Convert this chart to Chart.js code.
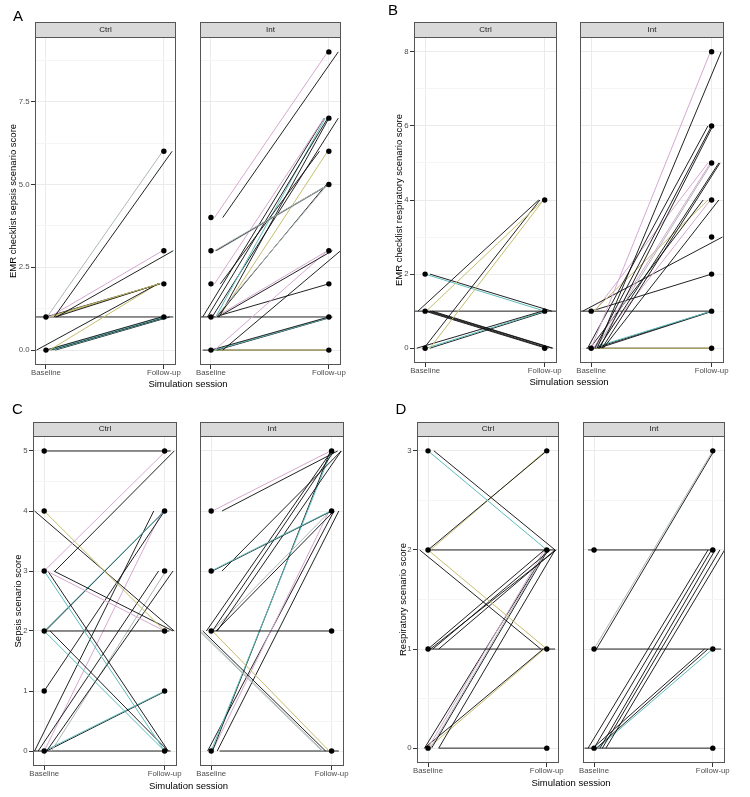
<!DOCTYPE html>
<html><head><meta charset="utf-8">
<script src="https://cdn.jsdelivr.net/npm/chart.js@4.4.1/dist/chart.umd.min.js"></script>
<style>
html,body{margin:0;padding:0;background:#fff;}
#page{position:relative;width:750px;height:797px;overflow:hidden;background:#fff;font-family:"Liberation Sans",Arial,sans-serif;}
canvas{position:absolute;}
.lbl{position:absolute;white-space:nowrap;color:#000;}
</style></head><body><div id="page"></div>
<script>
// ---------------- DATA ----------------
const sessions = ['Baseline', 'Follow-up'];
const groups = ['Ctrl', 'Int'];
const xTitle = 'Simulation session';

// Panel A: EMR checklist sepsis scenario score
const A_yTitle = 'EMR checklist sepsis scenario score';
const A_yTicks = [0, 2.5, 5, 7.5];
const A_yLabels = ['0.0', '2.5', '5.0', '7.5'];
const A_yRange = [-0.45, 9.45];
const A_ctrl_base   = [1,1,1,1,1,1,1,1,0,0,0,0,0,0,0,1];
const A_ctrl_follow = [6,6,3,3,2,2,2,2,2,2,1,1,1,1,1,1];
const A_ctrl_jitB   = [0.01,0.07,0.03,0.09,0.02,0.08,0.00,0.05,-0.08,0.03,0.00,0.02,0.04,0.06,0.08,-0.09];
const A_ctrl_jitF   = [-0.01,0.07,-0.01,0.08,-0.04,-0.04,-0.03,-0.04,-0.05,-0.05,-0.02,0.00,0.02,0.03,0.05,0.08];
const A_ctrl_grp    = ['g','k','p','k','o','k','k','o','k','o','k','t','k','t','k','k'];
const A_int_base    = [4,4,3,3,3,1,1,2,2,1,1,1,1,1,1,1,1,0,0,1,0,0,0,0,0,1];
const A_int_follow  = [9,9,5,5,5,5,5,6,7,7,7,7,7,7,6,3,3,3,3,2,1,1,1,0,0,1];
const A_int_jitB    = [0.03,0.10,0.03,0.04,0.05,0.04,0.05,0.08,0.03,-0.07,-0.03,0.04,0.07,0.01,0.07,0.04,0.06,0.10,0.03,0.03,0.00,0.03,0.05,0.02,-0.07,-0.09];
const A_int_jitF    = [-0.01,0.08,0.00,0.00,0.01,-0.01,-0.02,-0.08,-0.04,-0.04,-0.01,-0.03,0.00,0.08,-0.01,-0.01,0.03,0.10,-0.01,0.00,0.00,0.02,0.03,0.01,0.00,0.00];
const A_int_grp     = ['p','k','g','k','g','g','k','k','p','k','k','t','k','k','o','p','k','k','p','k','k','t','k','o','k','k'];

// Panel B: EMR checklist respiratory scenario score
const B_yTitle = 'EMR checklist respiratory scenario score';
const B_yTicks = [0, 2, 4, 6, 8];
const B_yLabels = ['0', '2', '4', '6', '8'];
const B_yRange = [-0.4, 8.4];
const B_ctrl_base   = [1,1,0,0,2,2,1,1,1,1,0,0,0,1];
const B_ctrl_follow = [4,4,4,4,1,1,0,0,0,0,1,1,1,1];
const B_ctrl_jitB   = [-0.06,0.01,-0.01,0.04,0.00,0.04,0.00,0.02,0.04,0.06,-0.07,0.01,0.04,-0.10];
const B_ctrl_jitF   = [-0.05,-0.01,-0.04,-0.01,0.00,0.06,0.01,0.03,0.06,0.07,-0.02,0.00,0.02,0.10];
const B_ctrl_grp    = ['k','o','k','o','t','k','k','k','k','k','k','t','k','k'];
const B_int_base    = [0,0,0,0,0,0,0,0,0,0,0,0,1,1,1,1,0,0,0,0,0,1];
const B_int_follow  = [8,8,6,6,6,5,5,5,5,4,4,4,4,3,5,2,1,1,1,0,0,1];
const B_int_jitB    = [0.00,0.05,-0.03,0.03,0.07,0.02,0.04,0.06,0.09,-0.01,0.03,0.10,0.02,-0.07,0.03,0.00,0.00,0.03,0.06,0.00,-0.04,-0.10];
const B_int_jitF    = [-0.01,0.08,-0.03,0.00,0.01,-0.01,0.00,0.06,0.07,-0.07,-0.01,0.06,-0.03,0.09,-0.03,0.00,0.00,0.00,0.01,0.00,0.00,0.00];
const B_int_grp     = ['p','k','k','k','k','p','g','k','k','k','p','k','o','k','p','k','t','k','k','o','k','k'];

// Panel C: Sepsis scenario score
const C_yTitle = 'Sepsis scenario score';
const C_yTicks = [0, 1, 2, 3, 4, 5];
const C_yLabels = ['0', '1', '2', '3', '4', '5'];
const C_yRange = [-0.25, 5.25];
const C_ctrl_base   = [5,3,3,4,4,3,3,3,3,2,2,2,2,2,1,0,0,0,0,0,0,0,0];
const C_ctrl_follow = [5,5,5,2,2,2,2,0,0,4,4,0,0,2,4,4,3,3,3,4,1,1,0];
const C_ctrl_jitB   = [0.02,0.00,0.09,0.00,-0.08,0.02,0.08,0.00,0.03,0.00,0.01,0.00,0.05,0.00,0.00,-0.08,-0.05,0.02,0.06,0.00,0.00,0.02,-0.09];
const C_ctrl_jitF   = [0.05,0.01,0.08,0.00,0.08,0.00,0.07,0.00,0.03,0.00,0.00,0.00,0.03,0.04,0.00,-0.09,-0.05,0.07,0.01,-0.02,0.00,0.01,0.05];
const C_ctrl_grp    = ['k','p','k','o','k','p','k','t','k','t','k','t','k','k','k','k','k','k','g','p','t','k','k'];
const C_int_base    = [4,4,3,3,3,2,2,2,2,2,2,2,2,2,2,0,0,0,0,0,0];
const C_int_follow  = [5,5,4,4,5,5,5,5,4,4,2,0,0,0,0,5,5,4,4,4,0];
const C_int_jitB    = [0.01,0.09,0.00,0.01,0.09,0.01,0.05,-0.04,0.01,0.04,0.00,-0.10,-0.09,-0.07,0.01,0.00,0.01,0.01,0.05,-0.03,0.07];
const C_int_jitF    = [-0.01,0.05,-0.01,0.00,0.08,0.02,0.08,0.00,-0.01,0.02,-0.01,-0.08,-0.07,-0.05,-0.02,0.00,-0.01,-0.02,0.06,0.02,0.06];
const C_int_grp     = ['p','k','t','k','k','k','k','k','g','k','k','g','g','k','o','t','k','p','k','k','k'];

// Panel D: Respiratory scenario score
const D_yTitle = 'Respiratory scenario score';
const D_yTicks = [0, 1, 2, 3];
const D_yLabels = ['0', '1', '2', '3'];
const D_yRange = [-0.15, 3.15];
const D_ctrl_base   = [3,3,2,2,2,2,2,1,1,1,1,1,0,0,0,0,0,0,0,0];
const D_ctrl_follow = [2,2,3,3,2,1,1,2,2,2,2,1,2,2,2,2,2,1,1,0];
const D_ctrl_jitB   = [0.00,0.05,0.00,0.02,0.00,0.00,-0.07,0.00,0.04,0.09,0.02,0.00,0.00,0.02,-0.03,0.09,0.03,-0.03,0.00,0.09];
const D_ctrl_jitF   = [0.00,0.07,0.00,-0.01,0.07,0.00,-0.05,-0.02,0.03,0.07,0.08,0.07,-0.02,0.00,0.00,0.07,0.01,-0.03,-0.02,0.00];
const D_ctrl_grp    = ['t','k','k','o','k','o','k','k','k','k','k','k','p','g','k','k','k','k','o','k'];
const D_int_base    = [2,1,1,1,0,0,0,0,0,0,0,0,0];
const D_int_follow  = [2,3,3,1,2,2,2,2,2,1,1,1,0];
const D_int_jitB    = [-0.05,0.00,0.02,0.00,-0.05,0.00,0.05,0.07,0.10,-0.01,0.02,0.03,-0.08];
const D_int_jitF    = [0.00,0.00,0.01,0.07,-0.04,-0.01,0.02,0.06,0.10,-0.07,-0.04,0.00,0.00];
const D_int_grp     = ['k','g','k','k','k','k','k','k','k','k','k','t','k'];

// ---------------- STYLE / LAYOUT ----------------
const FAMILY = '"Liberation Sans", Arial, sans-serif';
const PALETTE = { k: 'rgba(15,15,15,0.92)', p: '#d6a8cf', t: '#5cbcbd', o: '#c6bd6c', g: '#adb7b7' };
const X_RANGE = [0.907, 2.103];

const PANELS = [
  { letter: 'A', yTitle: A_yTitle, ticks: A_yTicks, labels: A_yLabels, range: A_yRange,
    lay: { x0: 0, stripTop: 22, plotTop: 37, plotBottom: 365, facets: [[35,176],[200,341]], yTitleX: 13.3, xTitleY: 384, letterPos: [13, 7.5] },
    data: [ {base: A_ctrl_base, follow: A_ctrl_follow, jb: A_ctrl_jitB, jf: A_ctrl_jitF, grp: A_ctrl_grp},
            {base: A_int_base,  follow: A_int_follow,  jb: A_int_jitB,  jf: A_int_jitF,  grp: A_int_grp} ] },
  { letter: 'B', yTitle: B_yTitle, ticks: B_yTicks, labels: B_yLabels, range: B_yRange,
    lay: { x0: 375, stripTop: 22, plotTop: 37, plotBottom: 363, facets: [[414,557],[580,724]], yTitleX: 399, xTitleY: 381.3, letterPos: [388, 2.3] },
    data: [ {base: B_ctrl_base, follow: B_ctrl_follow, jb: B_ctrl_jitB, jf: B_ctrl_jitF, grp: B_ctrl_grp},
            {base: B_int_base,  follow: B_int_follow,  jb: B_int_jitB,  jf: B_int_jitF,  grp: B_int_grp} ] },
  { letter: 'C', yTitle: C_yTitle, ticks: C_yTicks, labels: C_yLabels, range: C_yRange,
    lay: { x0: 0, stripTop: 422, plotTop: 436, plotBottom: 766, facets: [[33,177],[200,344]], yTitleX: 18, xTitleY: 785.8, letterPos: [12, 400.6] },
    data: [ {base: C_ctrl_base, follow: C_ctrl_follow, jb: C_ctrl_jitB, jf: C_ctrl_jitF, grp: C_ctrl_grp},
            {base: C_int_base,  follow: C_int_follow,  jb: C_int_jitB,  jf: C_int_jitF,  grp: C_int_grp} ] },
  { letter: 'D', yTitle: D_yTitle, ticks: D_yTicks, labels: D_yLabels, range: D_yRange,
    lay: { x0: 375, stripTop: 422, plotTop: 436, plotBottom: 763, facets: [[417,559],[583,725]], yTitleX: 403, xTitleY: 782.5, letterPos: [395.5, 400.6] },
    data: [ {base: D_ctrl_base, follow: D_ctrl_follow, jb: D_ctrl_jitB, jf: D_ctrl_jitF, grp: D_ctrl_grp},
            {base: D_int_base,  follow: D_int_follow,  jb: D_int_jitB,  jf: D_int_jitF,  grp: D_int_grp} ] }
];

const page = document.getElementById('page');

const facetDeco = {
  id: 'facetDeco',
  beforeDraw(chart, args, opts) {
    const {ctx, chartArea: a} = chart;
    ctx.save();
    ctx.fillStyle = '#d9d9d9';
    ctx.fillRect(a.left, a.top - opts.stripH, a.right - a.left, opts.stripH);
    ctx.restore();
  },
  afterDraw(chart, args, opts) {
    const {ctx, chartArea: a} = chart;
    ctx.save();
    ctx.strokeStyle = '#555555';
    ctx.lineWidth = 1;
    ctx.strokeRect(a.left + 0.5, a.top + 0.5, a.right - a.left - 1, a.bottom - a.top - 1);
    ctx.strokeRect(a.left + 0.5, a.top - opts.stripH + 0.5, a.right - a.left - 1, opts.stripH);
    ctx.restore();
  }
};

function minorTicks(majors, range) {
  const out = [];
  const step = majors[1] - majors[0];
  for (let v = majors[0] - step / 2; v <= range[1]; v += step) {
    if (v >= range[0] && v <= range[1]) out.push(v);
  }
  return out;
}

function makeFacet(P, fi) {
  const L = P.lay;
  const d = P.data[fi];
  const [pl, pr] = L.facets[fi];
  const isLeft = fi === 0;
  const x0 = isLeft ? L.x0 : pl - 10;
  const yW = pl - x0;
  const rPad = 14, xH = 18;
  const stripH = L.plotTop - L.stripTop;
  const W = pr - x0 + rPad;
  const H = L.plotBottom - L.stripTop + xH;
  const cv = document.createElement('canvas');
  cv.width = W; cv.height = H;
  cv.style.left = x0 + 'px'; cv.style.top = L.stripTop + 'px';
  cv.style.width = W + 'px'; cv.style.height = H + 'px';
  page.appendChild(cv);

  const minors = minorTicks(P.ticks, P.range);
  const allTicks = P.ticks.concat(minors).sort((a, b) => a - b);
  const majorIdx = v => P.ticks.findIndex(m => Math.abs(m - v) < 1e-9);

  const lineSets = d.base.map((b, i) => ({
    type: 'scatter', showLine: true,
    data: [{x: 1 + d.jb[i], y: b}, {x: 2 + d.jf[i], y: d.follow[i]}],
    borderColor: PALETTE[d.grp[i]], borderWidth: 1,
    pointRadius: 0, pointHoverRadius: 0, order: 1
  }));
  const pts = [...new Set(d.base)].map(v => ({x: 1, y: v}))
    .concat([...new Set(d.follow)].map(v => ({x: 2, y: v})));
  const pointSet = { type: 'scatter', data: pts, pointRadius: 2.7, backgroundColor: '#000', borderWidth: 0, order: 0 };

  const lh = 9.5 * 1.2;
  new Chart(cv, {
    type: 'scatter',
    data: { datasets: [pointSet].concat(lineSets) },
    options: {
      responsive: false, animation: false, devicePixelRatio: 1,
      events: [],
      layout: { padding: { left: 0, top: 0, bottom: 0, right: rPad }, autoPadding: false },
      plugins: {
        legend: { display: false }, tooltip: { enabled: false },
        title: { display: true, text: groups[fi], fullSize: false, position: 'top',
          font: { family: FAMILY, size: 8, lineHeight: 1, weight: 'normal' }, color: '#1a1a1a',
          padding: { top: (stripH - 8) / 2, bottom: (stripH - 8) / 2 } },
        facetDeco: { stripH: stripH }
      },
      scales: {
        x: {
          type: 'linear', min: X_RANGE[0], max: X_RANGE[1], bounds: 'data',
          afterBuildTicks: s => { s.ticks = [{value: 1}, {value: 2}]; },
          afterFit: s => { s.height = xH; },
          grid: { color: '#ebebeb', lineWidth: 1, tickLength: 4, tickColor: '#333333', drawTicks: true },
          border: { display: false },
          ticks: { callback: v => (v === 1 ? sessions[0] : (v === 2 ? sessions[1] : '')),
            font: { family: FAMILY, size: 7.8, lineHeight: 1.1 }, color: '#4d4d4d', padding: 0,
            maxRotation: 0, minRotation: 0, autoSkip: false }
        },
        y: {
          type: 'linear', min: P.range[0], max: P.range[1], bounds: 'data',
          afterBuildTicks: s => { s.ticks = allTicks.map(v => ({value: v})); },
          afterFit: s => { s.width = yW; },
          grid: {
            color: c => (c.tick && majorIdx(c.tick.value) >= 0 ? '#ebebeb' : '#f5f5f5'),
            tickColor: c => (c.tick && majorIdx(c.tick.value) >= 0 ? '#333333' : 'rgba(0,0,0,0)'),
            lineWidth: 1, tickLength: 4, drawTicks: isLeft
          },
          border: { display: false },
          ticks: { display: isLeft, autoSkip: false,
            callback: v => { const k = majorIdx(v); return k >= 0 ? P.labels[k] : ''; },
            font: { family: FAMILY, size: 7.8 }, color: '#4d4d4d', padding: 1.5 },
          title: isLeft ? { display: true, text: P.yTitle, color: '#000',
            font: { family: FAMILY, size: 9.5, lineHeight: 1.2 },
            padding: { top: L.yTitleX - L.x0 - lh / 2, bottom: 0 } } : { display: false }
        }
      }
    },
    plugins: [facetDeco]
  });
}

PANELS.forEach(P => {
  makeFacet(P, 0);
  makeFacet(P, 1);
  const L = P.lay;
  const letter = document.createElement('div');
  letter.className = 'lbl';
  letter.textContent = P.letter;
  letter.style.cssText += 'font-size:15px;line-height:15px;left:' + L.letterPos[0] + 'px;top:' + L.letterPos[1] + 'px;';
  page.appendChild(letter);
  const xt = document.createElement('div');
  xt.className = 'lbl';
  xt.textContent = xTitle;
  const cx = (L.facets[0][0] + L.facets[1][1]) / 2;
  xt.style.cssText += 'font-size:9.5px;line-height:9.5px;width:200px;text-align:center;left:' + (cx - 100) + 'px;top:' + (L.xTitleY - 4.65) + 'px;';
  page.appendChild(xt);
});
</script>
</body></html>
